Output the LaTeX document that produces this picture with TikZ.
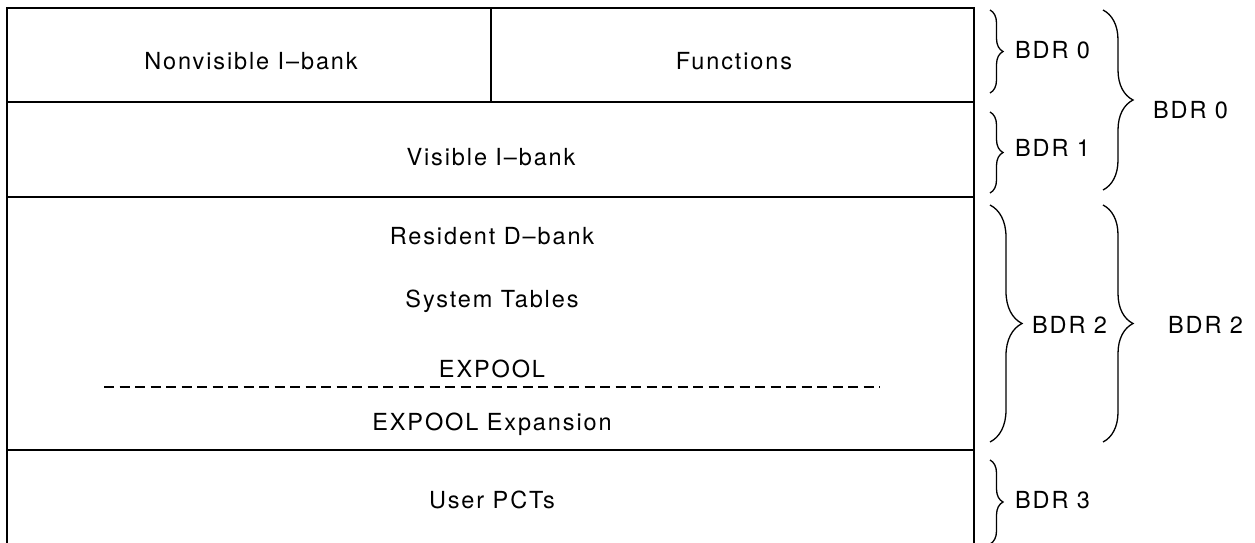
\documentclass[tikz,border=0pt]{standalone}
\usepackage{fontspec}
\setmainfont{TeX Gyre Heros}[LetterSpace=8]
\usetikzlibrary{decorations.pathreplacing}
\begin{document}
\begin{tikzpicture}[x=1pt,y=-1pt,
  lbl/.style={font=\fontsize{23.5}{28}\selectfont, inner sep=0pt, anchor=base},
  side/.style={font=\fontsize{23.5}{28}\selectfont, inner sep=0pt, anchor=base west},
  frame/.style={line width=1.8pt},
  sep/.style={line width=1.6pt},
  dashsep/.style={line width=1.4pt, dash pattern=on 10pt off 5.5pt},
  brc/.style={decorate, decoration={brace, amplitude=#1}, line width=1.3pt},
]
\useasboundingbox (0,0) rectangle (1255,542);
% frame
\coordinate (bl) at (7,545);
\coordinate (tl) at (7,8);
\coordinate (tr) at (974,8);
\coordinate (br) at (974,545);
\draw[frame] (bl) -- (tl) -- (tr) -- (br);
\coordinate (l1) at (7,102);   \coordinate (r1) at (974,102);
\coordinate (l2) at (7,197);   \coordinate (r2) at (974,197);
\coordinate (l3) at (7,450);   \coordinate (r3) at (974,450);
\draw[sep] (l1) -- (r1);
\draw[sep] (l2) -- (r2);
\draw[sep] (l3) -- (r3);
\coordinate (dt) at (491,8); \coordinate (db) at (491,102);
\draw[sep] (dt) -- (db);
\coordinate (ds) at (104,387); \coordinate (de) at (880,387);
\draw[dashsep] (ds) -- (de);
% texts
\node[lbl] (nonvis) at (251,69) {Nonvisible I–bank};
\node[lbl] (func) at (734,69) {Functions};
\node[lbl] (vis) at (491,165) {Visible I–bank};
\node[lbl] (resd) at (492,244) {Resident D–bank};
\node[lbl] (systab) at (492,307) {System Tables};
\node[lbl] (expool) at (492,377) {EXPOOL};
\node[lbl] (expexp) at (492,430) {EXPOOL Expansion};
\node[lbl] (upct) at (492,508) {User PCTs};
% braces
\coordinate (b0t) at (990,10);  \coordinate (b0b) at (990,93);
\coordinate (b1t) at (990,112); \coordinate (b1b) at (990,193);
\coordinate (B0t) at (1103,10); \coordinate (B0b) at (1103,190);
\coordinate (b2t) at (990,205); \coordinate (b2b) at (990,442);
\coordinate (B2t) at (1103,205); \coordinate (B2b) at (1103,442);
\coordinate (b3t) at (990,460); \coordinate (b3b) at (990,544);
\draw[brc=13] (b0t) -- (b0b);
\draw[brc=13] (b1t) -- (b1b);
\draw[brc=30] (B0t) -- (B0b);
\draw[brc=32] (b2t) -- (b2b);
\draw[brc=30] (B2t) -- (B2b);
\draw[brc=13] (b3t) -- (b3b);
\node[side] (bdr0a) at (1015,58) {BDR 0};
\node[side] (bdr1) at (1015,156) {BDR 1};
\node[side] (bdr0b) at (1153,118) {BDR 0};
\node[side] (bdr2a) at (1032,333) {BDR 2};
\node[side] (bdr2b) at (1168,333) {BDR 2};
\node[side] (bdr3) at (1015,508) {BDR 3};
\end{tikzpicture}
\end{document}
